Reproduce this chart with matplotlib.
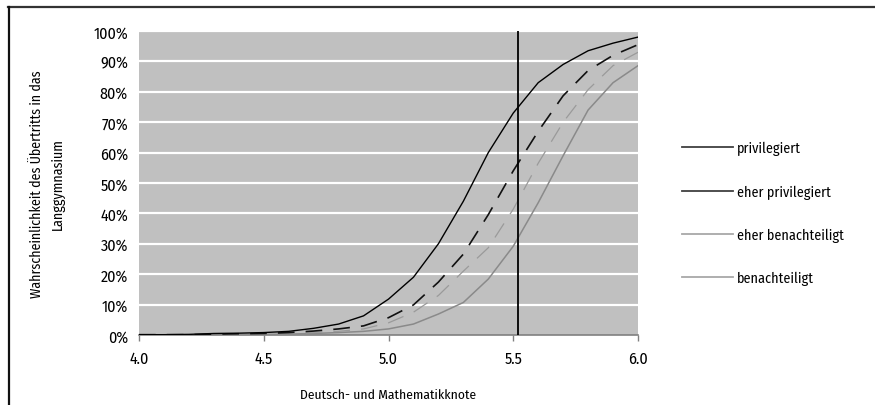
import matplotlib
matplotlib.use("Agg")
import matplotlib.pyplot as plt
from matplotlib.lines import Line2D
from matplotlib.ticker import FuncFormatter

plt.rcParams['font.family'] = ['Fira Sans Condensed', 'DejaVu Sans']
plt.rcParams['lines.scale_dashes'] = False

grades = [4.0, 4.1, 4.2, 4.3, 4.4, 4.5, 4.6, 4.7, 4.8, 4.9, 5.0,
          5.1, 5.2, 5.3, 5.4, 5.5, 5.6, 5.7, 5.8, 5.9, 6.0]
privilegiert = [0.1, 0.1, 0.2, 0.5, 0.6, 0.8, 1.2, 2.2, 3.6, 6.3, 11.8,
                19, 30, 44, 60, 73, 83, 89, 93.5, 96, 98]
eher_privilegiert = [0.1, 0.1, 0.1, 0.3, 0.4, 0.5, 0.8, 1.3, 2.0, 3.0, 5.7,
                     9.9, 17.4, 26.6, 39.6, 54, 67, 78.7, 87, 92, 95.5]
eher_benachteiligt = [0.1, 0.1, 0.1, 0.2, 0.2, 0.3, 0.5, 0.8, 1.2, 2.0, 4.0,
                      7.5, 13, 21, 28.7, 41.4, 56.5, 70, 80.7, 88.6, 93]
benachteiligt = [0.1, 0.1, 0.1, 0.1, 0.1, 0.2, 0.3, 0.5, 0.8, 1.2, 2.0,
                 3.6, 6.9, 10.7, 18.4, 29.2, 43.5, 59, 74, 83, 88.6]
cutoff = 5.52
labels = ["privilegiert", "eher privilegiert", "eher benachteiligt", "benachteiligt"]

fig = plt.figure(figsize=(8.75, 4.06), dpi=100)
ax = fig.add_axes([139/875, 70/406, 499/875, 304/406])
ax.set_facecolor('#c0c0c0')

ax.set_xlim(4.0, 6.0)
ax.set_ylim(0, 100)
yt = list(range(0, 101, 10))
ax.set_yticks(yt)
ax.yaxis.set_major_formatter(FuncFormatter(lambda v, p: f"{int(v)}%"))
ax.set_xticks([4.0, 4.5, 5.0, 5.5, 6.0])
ax.xaxis.set_major_formatter(FuncFormatter(lambda v, p: f"{v:.1f}"))
for v in yt[1:]:
    ax.axhline(v, color='white', lw=1.6, zorder=1)

ax.plot(grades, benachteiligt, color='#8a8a8a', lw=1.1, zorder=3)
ax.plot(grades, eher_benachteiligt, color='#9a9a9a', lw=0.9, dashes=(12, 8), zorder=3)
ax.plot(grades, eher_privilegiert, color='#111111', lw=1.2, dashes=(12, 8), zorder=4)
ax.plot(grades, privilegiert, color='#000000', lw=1.0, zorder=5)
ax.axvline(cutoff, color='black', lw=1.3, zorder=6)

for s in ['top', 'right', 'left']:
    ax.spines[s].set_visible(False)
ax.spines['bottom'].set_color('#808080')
ax.spines['bottom'].set_linewidth(1.2)
ax.tick_params(axis='y', which='major', length=0, labelsize=11.5, pad=8)
ax.set_yticks([0], minor=True)
ax.tick_params(axis='y', which='minor', length=4, color='#808080', width=1)
ax.tick_params(axis='x', length=4, color='#808080', width=1, labelsize=11.5, pad=7)

ax.set_xlabel("Deutsch- und Mathematikknote", fontsize=9.8, labelpad=16)
ax.set_ylabel("Wahrscheinlichkeit des Übertritts in das\nLanggymnasium", fontsize=10,
              labelpad=20, linespacing=1.65)

handles = [Line2D([], [], color=c, lw=1.3) for c in ['#404040', '#404040', '#a8a8a8', '#a8a8a8']]
fig.legend(handles, labels, loc='upper left', bbox_to_anchor=(682/875, 1 - 142/406),
           frameon=False, fontsize=10.2, handlelength=3.6, handletextpad=0.3,
           labelspacing=2.05, borderpad=0, borderaxespad=0)

fig.add_artist(Line2D([8/875, 1], [1 - 8/406, 1 - 8/406], transform=fig.transFigure,
                      color='#333333', lw=1.6))
fig.add_artist(Line2D([9/875, 9/875], [0, 1 - 8/406], transform=fig.transFigure,
                      color='#111111', lw=1.6))

fig.savefig("out.png", dpi=100, facecolor='white')
